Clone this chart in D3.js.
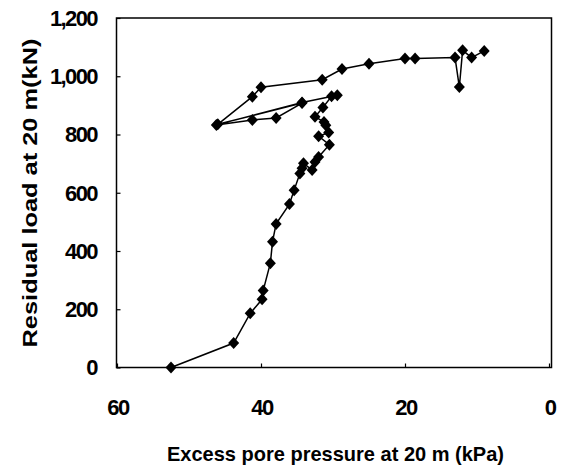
<!DOCTYPE html>
<html>
<head>
<meta charset="utf-8">
<script src="https://cdn.jsdelivr.net/npm/d3@7/dist/d3.min.js"></script>
<style>
  body { margin: 0; background: #fff; }
  svg text { font-family: "Liberation Sans", Arial, sans-serif; font-weight: bold; fill: #000; }
</style>
</head>
<body>
<div id="vizContainer"></div>
<script>
// excess pore pressure (kPa) and residual load (kN), in recorded order
var pressure = [52.5, 43.8, 41.5, 39.85, 39.7, 38.7, 38.4, 37.9, 36.05, 35.4,
    34.6, 34.3, 34.1, 32.9, 32.5, 32.0, 30.5, 32.0, 30.6, 31.0,
    31.25, 32.5, 31.4, 30.2, 29.4, 34.3, 46.2, 41.2, 37.9, 34.3,
    46.0, 41.2, 40.0, 31.5, 28.75, 25.0, 20.0, 18.6, 13.05, 12.45,
    12.0, 10.75, 9.0];
var load = [0, 84, 186, 234, 264, 358, 432, 493, 561, 609,
    666, 684, 701, 678, 706, 723, 765, 794, 807, 832,
    843, 861, 893, 931, 935, 910, 833, 850, 857, 908,
    835, 930, 962, 988, 1025, 1043, 1061, 1061, 1064, 963,
    1089, 1064, 1087];
var xTicks = [60, 40, 20, 0];
var yTicks = [0, 200, 400, 600, 800, 1000, 1200];

var width = 566, height = 466;
var plotLeft = 117, plotRight = 549, plotTop = 18, plotBottom = 367.5;

var svg = d3.select('#vizContainer').append('svg')
    .attr('width', width)
    .attr('height', height)
    .attr('viewBox', '0 0 ' + width + ' ' + height);

var x = d3.scaleLinear().domain([60, 0]).range([plotLeft, plotRight]);
var y = d3.scaleLinear().domain([0, 1200]).range([plotBottom, plotTop]);

// frame
svg.append('rect')
    .attr('x', plotLeft - 0.5)
    .attr('y', plotTop)
    .attr('width', plotRight - plotLeft + 3)
    .attr('height', plotBottom - plotTop)
    .attr('fill', 'none')
    .attr('stroke', '#000')
    .attr('stroke-width', 1.5);

// inward ticks
svg.append('g')
    .attr('transform', 'translate(' + (plotLeft - 0.5) + ',0)')
    .call(d3.axisRight(y).tickValues(yTicks).tickSize(4).tickFormat(''));
svg.append('g')
    .attr('transform', 'translate(0,' + plotBottom + ')')
    .call(d3.axisTop(x).tickValues(xTicks).tickSize(4).tickFormat(''));
svg.selectAll('.domain').remove();
svg.selectAll('.tick line').attr('stroke', '#000').attr('stroke-width', 1.2);

// tick labels
svg.selectAll('.ylab').data(yTicks).enter().append('text')
    .attr('x', 97)
    .attr('y', function(d){ return y(d); })
    .attr('dy', '0.36em')
    .attr('text-anchor', 'end')
    .attr('font-size', 22)
    .attr('letter-spacing', -1.6)
    .text(d3.format(','));
svg.selectAll('.xlab').data(xTicks).enter().append('text')
    .attr('x', function(d){ return x(d) + 1; })
    .attr('y', 407)
    .attr('dy', '0.36em')
    .attr('text-anchor', 'middle')
    .attr('font-size', 22)
    .attr('letter-spacing', -1.6)
    .text(function(d){ return d; });

// axis titles
svg.append('text')
    .attr('x', 167)
    .attr('y', 461)
    .attr('font-size', 21)
    .attr('textLength', 337)
    .attr('lengthAdjust', 'spacingAndGlyphs')
    .text('Excess pore pressure at 20 m (kPa)');
svg.append('text')
    .attr('transform', 'translate(37,193) rotate(-90)')
    .attr('text-anchor', 'middle')
    .attr('font-size', 21)
    .attr('textLength', 309)
    .attr('lengthAdjust', 'spacingAndGlyphs')
    .text('Residual load at 20 m(kN)');

// series
var pts = pressure.map(function(p, i){ return [p, load[i]]; });
var line = d3.line()
    .x(function(d){ return x(d[0]); })
    .y(function(d){ return y(d[1]); });
svg.append('path')
    .attr('d', line(pts))
    .attr('fill', 'none')
    .attr('stroke', '#000')
    .attr('stroke-width', 1.5);

svg.selectAll('.marker').data(pts).enter().append('path')
    .attr('d', 'M0,-6L5.5,0L0,6L-5.5,0Z')
    .attr('transform', function(d){ return 'translate(' + x(d[0]) + ',' + y(d[1]) + ')'; })
    .attr('fill', '#000');
</script>
</body>
</html>
